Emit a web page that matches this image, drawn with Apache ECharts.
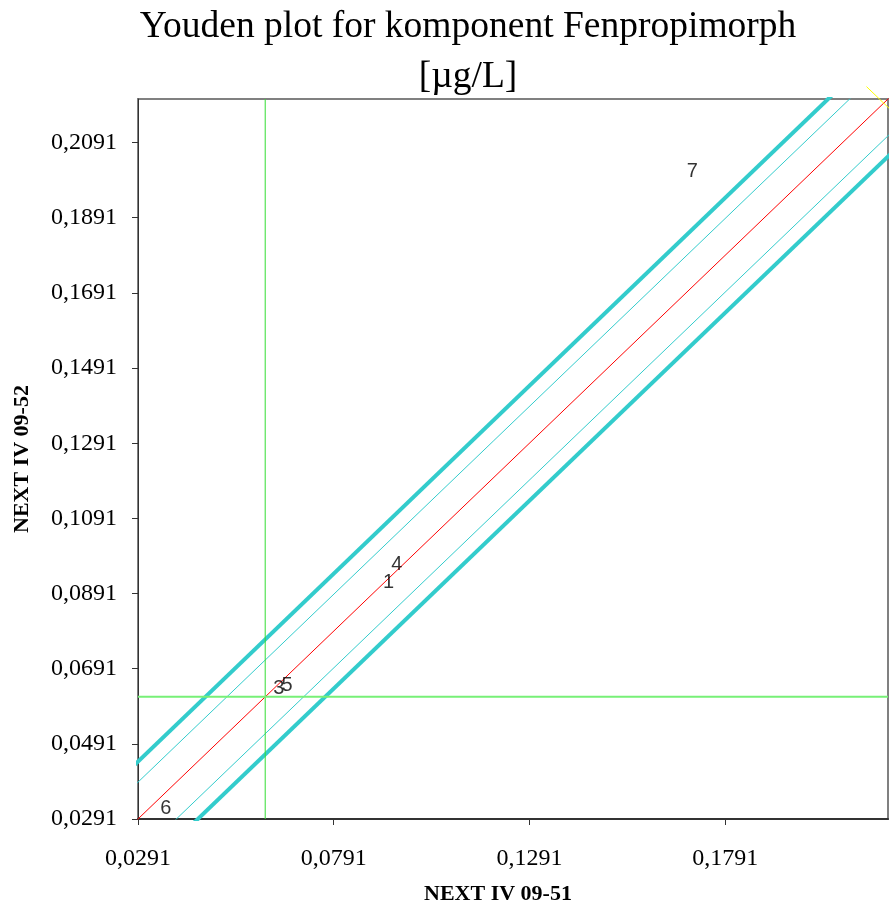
<!DOCTYPE html>
<html>
<head>
<meta charset="utf-8">
<script src="https://cdn.jsdelivr.net/npm/echarts@6/dist/echarts.min.js"></script>
<style>
  html, body { margin: 0; padding: 0; background: #fff; }
  #chart { width: 889px; height: 912px; }
</style>
</head>
<body>
<div id="chart"></div>
<script>
// lab numbers and their results (sample A on x, sample B on y)
const labs = ['1', '3', '4', '5', '6', '7']
const sampleA = [0.0931, 0.0651, 0.0952, 0.0672, 0.0362, 0.1707]
const sampleB = [0.0921, 0.0638, 0.0968, 0.0646, 0.0320, 0.2014]

const axisMin = 0.0291
const axisMax = 0.2207
const xTicks = [0.0291, 0.0791, 0.1291, 0.1791]
const yTicks = [0.0291, 0.0491, 0.0691, 0.0891, 0.1091, 0.1291, 0.1491, 0.1691, 0.1891, 0.2091]

const medianA = 0.0616
const medianB = 0.0616
const innerBand = 0.0098   // thin cyan lines
const outerBand = 0.0153   // thick cyan lines
const perpLine = [[0.2152, 0.2240], [0.2262, 0.2130]]

const fmt = v => v.toFixed(4).replace('.', ',')

// diagonal line shifted by d, running past the plot edges (clipped)
function diag(d) {
  return [[axisMin - 0.05, axisMin - 0.05 + d], [axisMax + 0.05, axisMax + 0.05 + d]]
}

const chart = echarts.init(document.getElementById('chart'))

const lineBase = { type: 'line', symbol: 'none', silent: true, clip: true, animation: false }

let option = {
  animation: false,
  title: {
    text: 'Youden plot for komponent Fenpropimorph\n[µg/L]',
    left: 463,
    top: -3,
    textAlign: 'center',
    textStyle: {
      fontFamily: 'Liberation Serif',
      fontWeight: 'normal',
      fontSize: 37.5,
      lineHeight: 50,
      color: '#000'
    }
  },
  grid: {
    left: 138, right: 1, top: 99, bottom: 93,
    outerBoundsMode: 'none', containLabel: false,
    show: true, borderColor: '#808080', borderWidth: 2
  },
  xAxis: {
    type: 'value',
    min: axisMin,
    max: axisMax,
    name: 'NEXT IV 09-51',
    nameLocation: 'middle',
    nameGap: 64,
    nameTextStyle: { fontFamily: 'Liberation Serif', fontWeight: 'bold', fontSize: 22, color: '#000', padding: [0, 0, 0, -30] },
    splitLine: { show: false },
    axisLine: { lineStyle: { color: '#333', width: 2 } },
    axisTick: { customValues: xTicks, length: 6, lineStyle: { color: '#333' } },
    axisLabel: { customValues: xTicks, formatter: fmt, margin: 28, fontFamily: 'Liberation Serif', fontSize: 24, color: '#000' }
  },
  yAxis: {
    type: 'value',
    min: axisMin,
    max: axisMax,
    name: 'NEXT IV 09-52',
    nameLocation: 'middle',
    nameGap: 105,
    nameTextStyle: { fontFamily: 'Liberation Serif', fontWeight: 'bold', fontSize: 22, color: '#000' },
    splitLine: { show: false },
    axisLine: { lineStyle: { color: '#333', width: 1 } },
    axisTick: { customValues: yTicks, length: 6, lineStyle: { color: '#333' } },
    axisLabel: { customValues: yTicks, formatter: fmt, margin: 21, fontFamily: 'Liberation Serif', fontSize: 24, color: '#000' }
  },
  series: [
    Object.assign({}, lineBase, { data: diag(outerBand), lineStyle: { color: '#33CCCC', width: 4 } }),
    Object.assign({}, lineBase, { data: diag(-outerBand), lineStyle: { color: '#33CCCC', width: 4 } }),
    Object.assign({}, lineBase, { data: diag(innerBand), lineStyle: { color: '#33CCCC', width: 1 } }),
    Object.assign({}, lineBase, { data: diag(-innerBand), lineStyle: { color: '#33CCCC', width: 1 } }),
    Object.assign({}, lineBase, { data: diag(0), lineStyle: { color: '#FF0000', width: 1 } }),
    Object.assign({}, lineBase, { data: [[medianA, axisMin], [medianA, axisMax]], lineStyle: { color: '#33DD33', width: 1 } }),
    Object.assign({}, lineBase, { data: [[axisMin, medianB], [axisMax, medianB]], lineStyle: { color: '#77F077', width: 2 } }),
    Object.assign({}, lineBase, { data: perpLine, clip: false, lineStyle: { color: '#FFFF00', width: 1 } }),
    {
      type: 'scatter',
      symbolSize: 0,
      animation: false,
      z: 5,
      data: labs.map((l, i) => ({ value: [sampleA[i], sampleB[i]], name: l })),
      label: {
        show: true,
        position: 'inside',
        formatter: p => p.name,
        fontFamily: 'Liberation Sans',
        fontSize: 20,
        color: '#000',
        textBorderWidth: 0
      }
    }
  ]
}

chart.setOption(option)
</script>
</body>
</html>
